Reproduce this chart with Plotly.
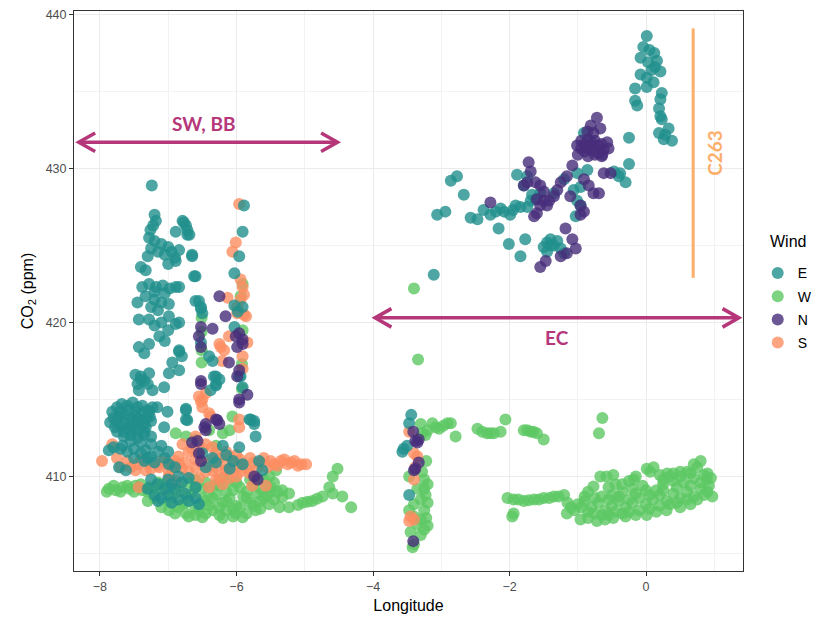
import plotly.graph_objects as go

# ---- data (lon, CO2 ppm) ----
e_pts = [
    (-7.24,428.9),(-7.2,427.0),(-7.18,426.6),(-7.22,426.3),(-7.26,426.0),
    (-6.79,426.6),(-6.74,426.3),(-6.72,426.0),(-6.89,425.9),(-6.69,425.7),
    (-7.28,425.5),(-7.2,425.3),(-7.1,425.1),(-7.0,424.9),(-7.25,424.8),(-7.15,424.6),(-6.95,424.6),
    (-7.05,424.4),(-6.9,424.2),(-7.3,424.3),(-6.65,424.3),(-7.4,423.6),(-7.33,423.4),(-6.89,424.0),
    (-7.0,423.8),(-6.62,423.0),(-7.38,422.3),(-7.28,422.5),(-7.18,422.3),(-7.08,422.4),(-6.98,422.2),
    (-6.89,422.3),(-7.2,422.0),(-7.05,421.9),(-7.45,421.3),(-7.33,421.7),(-7.2,421.5),(-7.1,421.3),
    (-6.99,421.2),(-7.25,421.0),(-7.15,420.8),(-7.43,420.2),(-7.28,420.2),(-6.99,420.4),(-6.89,419.9),
    (-7.1,420.0),(-7.2,419.8),(-7.13,419.1),(-7.0,419.5),(-7.05,418.8),(-6.84,418.1),(-6.94,417.4),
    (-6.8,417.8),(-7.43,418.4),(-7.28,418.6),(-7.35,418.0),(-7.4,416.5),(-7.28,416.7),(-7.43,415.6),
    (-7.35,416.2),(-7.45,416.0),(-7.06,415.8),(-6.99,416.7),(-6.84,416.9),(-6.6,421.4),(-6.52,421.0),
    (-6.5,420.6),(-6.65,424.4),(-6.6,423.0),(-6.72,425.7),(-6.77,426.5),(-6.84,420.0),(-6.84,418.2),
    (-6.84,422.3),(-6.84,424.7),
    (-5.89,427.6),(-5.91,425.9),(-5.96,424.3),(-6.03,423.2),(-6.55,421.4),(-6.52,420.9),(-6.03,421.1),
    (-5.91,421.0),(-5.98,420.7),(-6.03,419.7),(-6.52,418.7),(-6.4,417.8),(-6.35,417.5),(-5.94,416.5),
    (-6.33,416.5),(-6.3,416.0),(-6.38,415.6),(-6.74,414.4),(-6.74,413.7),(-5.81,413.7),(-5.74,413.6),
    (-7.48,416.6),(-7.4,416.3),(-7.3,416.0),(-7.23,415.6),(-6.3,416.5),(-6.3,415.9),(-6.25,416.3),
    (-5.96,416.5),(-5.91,415.8),
    (-7.82,414.2),(-7.75,414.5),(-7.68,414.7),(-7.6,414.6),(-7.52,414.8),(-7.45,414.5),(-7.38,414.6),
    (-7.3,414.3),(-7.23,414.5),(-7.8,413.8),(-7.72,413.9),(-7.64,414.0),(-7.55,413.8),(-7.47,413.9),
    (-7.4,413.7),(-7.32,413.8),(-7.25,413.6),(-7.78,413.2),(-7.7,413.3),(-7.6,413.1),(-7.5,413.3),
    (-7.42,413.1),(-7.33,413.2),(-7.65,412.6),(-7.55,412.7),(-7.45,412.5),(-7.35,412.7),(-7.25,412.6),
    (-7.16,414.5),(-7.01,414.2),(-6.74,414.3),(-6.72,413.65),(-7.06,413.2),(-7.87,411.7),(-7.8,411.9),
    (-7.72,410.6),(-7.62,410.4),(-7.67,412.0),(-7.6,411.6),(-7.5,411.8),(-7.4,411.5),(-7.33,411.7),
    (-7.25,411.3),(-7.15,411.6),(-7.05,411.2),(-6.99,410.8),(-7.5,411.2),(-7.35,411.0),(-7.2,410.9),
    (-7.85,413.5),(-7.75,413.6),(-7.65,413.5),(-7.55,413.5),(-7.45,413.6),(-7.35,413.4),(-7.27,413.9),
    (-7.7,414.2),(-7.58,414.3),(-7.48,414.2),(-7.38,414.1),(-7.28,414.2),(-7.75,412.9),(-7.65,412.9),
    (-7.55,413.0),(-7.45,412.9),(-7.35,412.9),(-7.7,411.8),(-7.55,412.3),(-7.4,412.2),(-7.25,412.1),
    (-7.1,412.0),(-7.0,411.6),(-7.3,411.2),
    (-6.9,410.6),(-6.85,410.0),(-6.8,409.6),(-6.9,409.2),(-7.0,408.8),(-7.1,408.6),(-7.2,408.8),
    (-7.3,409.2),(-6.7,409.9),(-6.6,409.3),(-6.75,408.9),(-6.85,408.5),(-6.95,408.3),(-6.6,408.6),
    (-6.55,408.2),(-6.7,408.4),(-7.05,409.2),(-7.15,408.4),(-7.0,409.8),(-7.15,409.5),(-6.95,409.5),
    (-7.25,409.8),
    (-6.5,411.5),(-6.35,411.2),(-6.2,412.0),(-6.15,411.4),(-6.05,411.0),(-5.96,411.9),(-5.91,410.8),
    (-5.72,412.6),(-5.67,411.0),(-5.62,410.4),(-5.79,413.7),(-5.74,413.4),(-6.45,410.6),(-6.3,410.9),
    (-6.1,410.5),
    (0.01,438.6),(-0.04,437.9),(0.05,437.7),(0.12,437.5),(0.16,437.0),(-0.08,437.2),(0.03,436.9),
    (0.13,436.6),(0.08,436.4),(-0.08,436.1),(0.01,435.9),(0.11,435.6),(0.21,436.3),(0.01,435.3),
    (-0.16,435.2),(-0.16,434.4),(-0.13,434.1),(0.23,434.9),(0.21,434.5),(0.19,433.9),(0.21,433.4),
    (0.23,433.2),(0.19,432.3),(0.28,432.2),(0.33,432.6),(0.38,431.8),(0.26,431.9),(-0.25,432.0),
    (-0.25,430.3),(-0.38,429.7),(-0.3,429.1),(-0.91,432.3),(-0.86,431.4),(-0.86,429.9),(-1.01,429.7),
    (-1.06,428.6),(-1.01,427.9),(-1.03,426.9),(-0.96,427.6),(-2.86,429.2),(-2.77,429.5),(-2.67,428.3),
    (-3.06,427.0),(-2.94,427.2),(-2.57,426.8),(-2.47,426.7),(-2.38,427.3),(-2.2,427.2),(-2.08,427.2),
    (-1.99,427.0),(-1.91,427.6),(-1.84,427.5),(-1.74,427.5),(-2.16,426.1),(-2.01,425.1),(-1.84,424.3),
    (-1.77,425.4),(-1.89,429.6),(-1.74,429.5),(-1.79,428.9),(-1.67,428.3),(-1.69,427.9),(-1.55,428.4),
    (-1.45,425.2),(-1.4,425.4),(-1.35,425.0),(-1.45,424.6),(-1.25,424.8),(-1.2,424.5),(-1.5,424.9),
    (-3.11,423.1),(-1.35,428.4),(-0.47,429.8),(-0.4,429.5),(-1.2,429.3),(-0.96,428.8),
    (-2.28,427.0),(-2.13,427.4),(-1.95,427.3),(-1.62,428.0),(-1.4,425.0),(-1.3,425.3),
    (-3.44,414.0),(-3.47,413.45),(-3.55,411.8),(-3.57,411.6),(-3.5,412.0),(-3.47,408.8),
]

w_pts = [
    (-3.3,413.4),(-3.2,413.0),(-3.28,412.8),(-3.23,412.7),(-3.13,413.45),(-3.03,413.1),(-2.91,413.45),
    (-2.86,413.45),(-2.79,412.6),(-3.08,413.2),(-2.97,413.3),(-2.47,413.1),(-2.33,412.8),(-2.23,412.8),
    (-2.13,412.9),(-2.06,413.7),(-2.4,412.9),(-2.28,412.8),(-1.79,413.0),(-1.69,412.9),(-1.6,412.8),
    (-1.5,412.4),(-1.74,413.0),(-1.65,412.9),(-0.64,413.8),(-0.69,412.8),
    (-3.47,410.0),(-3.25,409.8),(-3.2,409.5),(-3.23,408.8),(-3.2,408.3),(-3.47,407.8),(-3.25,407.8),
    (-3.4,407.4),(-3.3,407.2),(-3.2,406.8),(-3.45,406.4),(-3.25,406.55),(-3.4,405.6),(-3.42,405.4),
    (-3.35,409.2),(-3.3,408.5),(-3.25,409.2),(-3.4,408.2),(-3.35,406.9),(-3.3,406.2),(-3.22,407.3),
    (-3.28,410.3),(-3.22,411.0),(-3.4,422.2),(-3.34,417.6),
    (-2.03,408.6),(-1.94,408.5),(-1.79,408.4),(-1.64,408.5),(-1.5,408.6),(-1.35,408.7),(-1.2,408.8),
    (-1.96,407.4),(-1.94,407.6),(-1.87,408.5),(-1.72,408.45),(-1.57,408.5),(-1.42,408.6),(-1.28,408.7),
    (-0.77,409.35),(-0.67,410.0),(-0.48,410.1),(-0.18,409.8),(0.01,410.5),(0.11,410.6),(0.31,410.2),
    (0.5,410.3),(0.75,410.6),(0.8,411.0),(0.89,409.8),(0.97,408.7),(-0.58,410.0),(0.06,410.3),
    (0.2,410.1),(0.4,410.2),(0.6,410.3),(0.85,410.1),(0.92,409.4),
    (-1.16,407.6),(-0.96,407.2),(-0.72,407.1),(-0.48,407.3),(0.01,407.5),(0.5,408.0),(0.65,408.2),
    (-1.1,408.0),(-0.85,407.3),(-0.6,407.2),(-0.3,407.4),(-0.15,407.5),(0.15,407.7),(0.3,407.8),
    (-1.0,408.2),(-0.9,408.4),(-0.8,408.0),(-0.7,408.3),(-0.6,407.8),(-0.5,408.1),(-0.4,408.4),
    (-0.3,408.0),(-0.2,408.3),(-0.1,408.6),(0.0,408.2),(0.1,408.5),(0.2,408.8),(0.3,408.4),
    (0.4,408.9),(0.5,408.6),(0.6,409.0),(0.7,408.7),(0.8,409.2),(0.85,408.8),(-0.5,408.8),
    (-0.35,409.0),(-0.2,409.2),(-0.05,409.4),(0.25,409.5),(0.4,409.7),(0.55,409.6),(0.7,409.9),
    (-0.65,408.7),(-0.45,409.5),(-0.25,409.7),(0.15,409.1),(0.35,410.0),
    (-1.15,408.3),(-1.05,407.8),(-0.95,408.0),(-0.85,407.7),(-0.75,407.6),(-0.65,407.5),(-0.55,407.5),
    (-0.45,407.7),(-0.35,407.6),(-0.25,407.7),(-0.1,407.8),(0.05,407.9),(0.2,408.1),(0.35,408.2),
    (0.45,408.3),(0.6,408.5),(0.75,408.5),(0.9,409.0),(-0.9,408.7),(-0.75,408.6),(-0.55,408.5),
    (-0.4,408.7),(-0.25,408.5),(-0.15,408.9),(0.05,408.8),(0.25,409.1),(0.45,409.3),(0.65,409.4),
    (0.8,409.6),(-0.15,410.0),(0.25,409.8),(0.5,410.0),(0.65,410.2),(-0.35,409.5),(-0.85,409.0),
    (0.0,409.1),(-0.55,409.3),(0.9,410.2),(0.7,410.8),(0.95,409.9),
    (-7.87,409.2),(-7.67,409.3),(-7.48,409.4),(-7.28,409.3),(-7.09,409.5),(-7.77,409.1),(-7.57,409.2),
    (-7.38,409.1),(-6.99,407.8),(-6.74,407.6),(-6.5,407.35),(-6.25,407.5),(-6.01,407.6),(-5.91,407.35),
    (-5.72,407.8),(-5.52,408.2),(-5.33,408.65),(-7.2,408.6),(-7.0,408.4),(-6.9,408.9),(-6.8,408.2),
    (-6.7,408.7),(-6.6,408.0),(-6.5,408.5),(-6.4,408.1),(-6.3,408.8),(-6.2,408.3),(-6.1,408.6),
    (-6.0,408.1),(-5.9,408.7),(-5.8,408.3),(-5.7,408.9),(-5.6,408.6),(-5.5,409.0),(-6.4,409.0),
    (-6.15,409.0),(-5.95,409.3),(-5.75,409.5),(-6.6,409.3),(-6.85,409.4),(-6.35,407.8),(-6.15,407.8),
    (-6.6,407.5),(-7.1,408.0),(-7.3,408.4),(-5.45,409.6),(-5.6,409.8),(-6.0,409.6),(-6.6,409.8),
    (-6.2,409.9),
    (-7.9,409.0),(-7.8,409.4),(-7.7,409.0),(-7.6,409.4),(-7.5,409.0),(-7.4,409.5),(-7.3,409.0),
    (-7.2,409.3),(-7.1,409.1),(-7.0,409.2),(-6.95,408.6),(-6.85,408.0),(-6.75,408.3),(-6.65,408.9),
    (-6.55,407.8),(-6.45,408.4),(-6.35,408.6),(-6.25,408.0),(-6.15,408.4),(-6.05,407.9),(-5.95,408.0),
    (-5.85,408.6),(-5.75,408.1),(-5.65,408.4),(-5.55,408.8),(-5.45,408.5),(-5.4,409.0),(-6.9,407.6),
    (-6.7,407.4),(-6.45,407.6),(-6.2,407.3),(-6.05,407.4),(-5.85,407.6),(-5.65,407.9),(-6.8,409.0),
    (-6.5,409.2),(-6.25,409.4),(-6.05,409.1),(-5.85,409.0),(-5.65,409.2),(-6.45,409.6),(-6.1,409.7),
    (-5.8,409.8),(-6.3,409.5),(-7.15,409.6),(-6.7,409.6),(-5.5,409.3),
    (-6.89,412.8),(-6.74,412.6),(-6.4,413.0),(-6.2,412.8),(-6.1,413.0),(-6.6,412.4),
    (-6.3,412.0),(-5.42,410.4),(-5.52,410.0),(-5.33,409.1),(-5.23,408.9),
    (-5.37,408.0),(-5.23,408.0),(-5.03,408.3),(-4.89,408.4),(-4.74,408.7),(-4.64,409.3),(-4.59,410.0),
    (-4.52,410.5),(-4.59,408.9),(-4.45,408.7),(-4.32,408.0),(-5.1,408.15),(-4.96,408.35),(-4.82,408.55),
    (-6.51,420.3),(-6.51,419.4),(-6.51,418.2),(-6.51,417.4),(-5.91,422.5),(-5.94,421.7),(-5.91,419.5),
    (-5.92,417.3),(-5.92,415.7),(-6.06,413.9),
]

n_pts = [
    (-0.72,433.3),(-0.81,432.8),(-0.67,432.6),(-0.77,432.3),(-0.86,432.4),(-1.01,431.5),(-0.95,431.8),
    (-0.9,431.6),(-0.85,431.9),(-0.8,431.7),(-0.75,431.8),(-0.7,431.5),(-0.65,431.6),(-0.62,431.2),
    (-0.7,431.0),(-0.8,431.2),(-0.9,431.1),(-1.0,430.9),(-0.95,431.3),(-0.85,430.8),(-0.75,430.9),
    (-0.65,430.8),(-0.78,431.4),(-0.88,431.4),(-0.57,431.7),(-0.55,431.3),(-0.64,430.9),
    (-1.08,430.2),(-1.16,429.5),(-1.25,429.1),(-1.3,428.6),(-1.35,428.2),(-1.42,427.9),
    (-0.91,429.3),(-0.84,428.9),(-0.77,428.4),(-0.69,428.4),(-0.62,429.7),(-0.52,429.7),
    (-1.11,428.2),(-0.96,427.6),(-0.91,427.2),(-0.96,427.0),(-1.72,430.4),(-1.69,429.8),(-1.74,429.1),
    (-1.62,429.1),(-1.55,428.9),(-1.5,428.5),(-1.6,428.0),(-1.55,427.6),(-1.6,427.1),(-1.64,426.9),
    (-1.5,427.9),(-1.45,427.6),(-1.79,428.9),(-2.28,427.8),(-1.18,426.1),(-1.08,425.4),(-1.03,424.8),
    (-1.16,424.5),(-1.25,424.3),(-1.47,424.0),(-1.55,423.6),
    (-3.41,412.9),(-3.38,412.3),(-3.33,412.4),(-3.35,412.2),(-3.33,410.9),(-3.38,410.5),(-3.4,410.4),
    (-3.41,405.8),
    (-6.25,421.7),(-6.16,420.4),(-6.52,419.7),(-6.35,419.6),(-6.55,419.1),(-6.52,418.4),(-6.01,419.1),
    (-5.91,418.9),(-5.91,418.6),(-5.96,419.3),(-5.99,418.4),(-6.11,417.4),(-5.96,416.9),(-6.52,416.2),
    (-5.84,415.3),(-5.96,415.0),(-6.45,413.4),(-6.3,413.7),(-6.52,416.0),(-5.99,416.5),(-5.96,414.8),
    (-6.28,413.65),(-6.25,413.4),(-6.47,413.2),(-6.45,413.0),(-6.65,412.2),(-6.57,412.3),(-6.55,411.5),
    (-6.52,411.0),(-5.74,410.0),(-5.69,409.8),
]

s_pts = [
    (-5.96,427.7),(-6.01,425.2),(-6.06,424.6),(-5.94,422.8),(-5.91,422.3),(-5.89,421.8),(-5.94,421.5),
    (-5.99,420.6),(-5.89,420.5),(-5.86,420.4),(-5.99,421.0),(-6.13,421.6),(-6.11,419.1),(-5.84,418.7),
    (-5.91,417.8),(-5.91,417.0),(-6.25,418.6),(-6.18,418.2),(-6.21,417.5),(-6.23,418.4),(-6.45,415.4),
    (-6.5,415.0),(-6.4,414.1),(-6.38,413.9),(-5.96,413.7),(-6.55,415.2),(-6.52,414.85),(-6.5,414.5),
    (-5.96,413.2),(-7.82,412.1),(-7.97,411.0),
    (-7.75,411.2),(-7.6,411.0),(-7.45,410.8),(-7.3,410.9),(-7.15,410.7),(-7.0,410.9),(-6.85,411.3),
    (-6.7,411.6),(-6.55,411.4),(-6.4,411.0),(-6.25,411.2),(-6.1,411.3),(-5.95,411.1),(-5.8,411.2),
    (-5.65,410.9),(-5.5,411.0),(-5.35,411.0),(-5.2,410.9),(-5.05,410.8),(-4.98,410.8),
    (-6.8,410.5),(-6.6,410.6),(-6.45,410.3),(-6.3,410.6),(-6.15,410.4),(-6.0,410.6),(-5.85,410.5),
    (-5.7,410.5),(-5.55,410.6),(-5.4,410.7),(-5.25,410.8),(-7.48,410.4),(-7.33,410.4),(-7.13,410.6),
    (-6.99,410.3),(-7.43,409.3),(-6.99,410.0),(-6.89,409.7),(-6.4,409.3),(-6.2,409.5),(-6.0,410.0),
    (-5.81,410.2),(-6.16,410.4),(-5.77,409.4),(-5.57,409.4),(-6.84,410.8),(-6.45,412.1),(-6.35,411.9),
    (-6.6,412.6),(-6.79,412.1),(-6.65,411.8),(-6.55,409.9),(-6.3,409.8),(-6.1,409.9),
    (-7.7,410.6),(-7.55,410.6),(-7.4,411.1),(-7.25,410.5),(-7.1,411.0),(-6.95,410.6),(-6.75,410.9),
    (-6.6,411.1),(-6.5,410.8),(-6.35,410.4),(-6.2,410.9),(-6.05,410.9),(-5.9,410.8),(-5.75,410.9),
    (-5.6,411.2),(-5.45,410.8),(-5.3,411.1),(-5.15,411.0),(-5.1,410.7),(-6.9,411.0),(-6.7,410.3),
    (-6.25,409.9),(-5.95,410.3),(-6.5,411.8),(-6.3,411.5),(-6.15,411.6),(-6.0,411.4),
    (-3.47,412.9),(-3.4,411.5),(-3.35,411.3),(-3.38,410.6),(-3.4,409.8),(-3.45,407.4),(-3.4,407.2),
    (-3.47,407.1),
]

wind_order = ["E", "W", "N", "S"]
wind_colors = {"E": "#21908C", "W": "#5DC863", "N": "#472D7B", "S": "#FC8D62"}
series = {"E": e_pts, "W": w_pts, "N": n_pts, "S": s_pts}
draw_order = ["W", "S", "E", "N"]

x_range = [-8.38, 1.42]
y_range = [403.86, 440.23]

fig = go.Figure()
for key in draw_order:
    pts = series[key]
    fig.add_trace(go.Scatter(
        x=[p[0] for p in pts], y=[p[1] for p in pts],
        mode="markers", name=key, legendgroup=key,
        legendrank=wind_order.index(key) + 1,
        marker=dict(size=12, color=wind_colors[key], opacity=0.8, line=dict(width=0)),
        showlegend=True,
    ))

# ---- annotations: arrows and labels ----
arrow_col = "#B5377A"
c263_col = "#FDAE6B"
sw_span = (-8.31, -4.52, 431.7)
ec_span = (-3.97, 1.36, 420.3)
c263_line = (0.69, 422.9, 439.1)

def arrow_shapes(x0, x1, y):
    dx, dy = 0.24, 0.6
    out = [dict(type="line", x0=x0, x1=x1, y0=y, y1=y)]
    out.append(dict(type="path", path=f"M {x0+dx},{y+dy} L {x0},{y} L {x0+dx},{y-dy}"))
    out.append(dict(type="path", path=f"M {x1-dx},{y+dy} L {x1},{y} L {x1-dx},{y-dy}"))
    for s in out:
        s.update(xref="x", yref="y", line=dict(color=arrow_col, width=3.5))
    return out

shapes = arrow_shapes(*sw_span[:2], sw_span[2]) + arrow_shapes(*ec_span[:2], ec_span[2])
shapes.append(dict(type="line", xref="x", yref="y", x0=c263_line[0], x1=c263_line[0],
                   y0=c263_line[1], y1=c263_line[2], line=dict(color=c263_col, width=3)))

label_font = dict(family="Lato, Open Sans, sans-serif", size=19, color=arrow_col)
base_font = "Liberation Sans, Arial, sans-serif"
annotations = [
    dict(x=-6.49, y=432.95, text="<b>SW, BB</b>", showarrow=False, font=label_font, xref="x", yref="y"),
    dict(x=-1.3, y=419.0, text="<b>EC</b>", showarrow=False, font=label_font, xref="x", yref="y"),
    dict(x=0.99, y=431.0, text="<b>C263</b>", showarrow=False, textangle=-90,
         font=dict(family="Lato, Open Sans, sans-serif", size=19, color=c263_col), xref="x", yref="y"),
    dict(x=1.037, y=0.589, xref="paper", yref="paper", xanchor="left", yanchor="middle",
         text="Wind", showarrow=False, font=dict(family=base_font, size=16, color="black")),
]

axis_common = dict(
    showline=True, linecolor="#333333", linewidth=1, mirror=True,
    ticks="outside", ticklen=4, tickcolor="#333333", tickwidth=1,
    showgrid=True, gridcolor="#EBEBEB", gridwidth=1, zeroline=False,
    tickfont=dict(family=base_font, size=12.5, color="#4D4D4D"),
)

fig.update_layout(
    width=819, height=623,
    margin=dict(l=74, r=76, t=11, b=52, autoexpand=False),
    paper_bgcolor="white", plot_bgcolor="white",
    shapes=shapes, annotations=annotations,
    xaxis=dict(range=x_range, dtick=2, tick0=0,
               minor=dict(dtick=1, tick0=0, showgrid=True, gridcolor="#F2F2F2", gridwidth=0.6),
               title=dict(text="Longitude", standoff=6,
                          font=dict(family=base_font, size=16, color="black")),
               **axis_common),
    yaxis=dict(range=y_range, dtick=10, tick0=0,
               minor=dict(dtick=5, tick0=0, showgrid=True, gridcolor="#F2F2F2", gridwidth=0.6),
               title=dict(text="CO<sub>2</sub> (ppm)", standoff=8,
                          font=dict(family=base_font, size=16, color="black")),
               **axis_common),
    legend=dict(x=1.022, y=0.56, xanchor="left", yanchor="top",
                font=dict(family=base_font, size=14, color="black"),
                tracegroupgap=2, bgcolor="rgba(0,0,0,0)"),
    showlegend=True,
)

fig.write_html("out.html")
